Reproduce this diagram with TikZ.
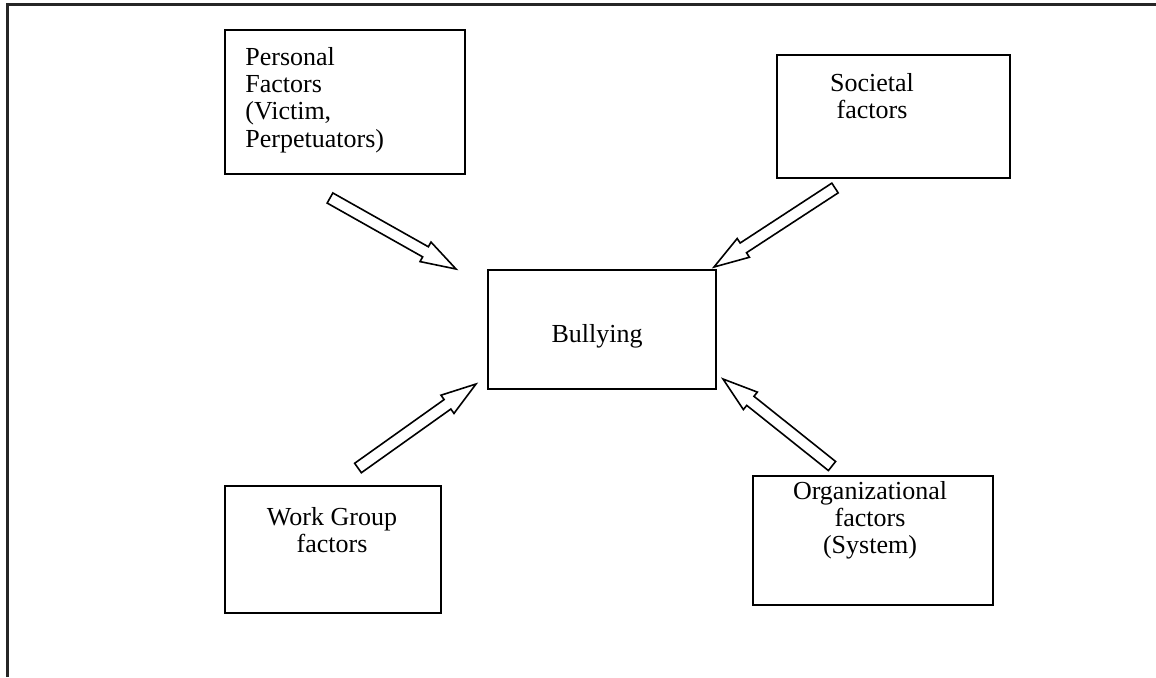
\documentclass[tikz,border=0pt]{standalone}
\usepackage{fontspec}
\setmainfont{Liberation Serif}
\usetikzlibrary{calc}
\tikzset{
  factorbox/.style={draw, line width=1.2pt, inner sep=0pt},
  label text/.style={inner sep=0pt, font=\fontsize{13}{13.7}\selectfont},
  blockarrow/.style={draw, line width=0.8pt, fill=white, line join=miter},
  frameline/.style={draw=black!85, line width=1.1pt}
}
\newcommand\fatarrow[2]{%
  \coordinate (#1hb) at ($(#2)!17.5pt!(#1)$);
  \draw[blockarrow] ($(#1)!2.9pt!90:(#2)$)
    -- ($(#1hb)!2.9pt!-90:(#1)$)
    -- ($(#1hb)!5.6pt!-90:(#1)$)
    -- (#2)
    -- ($(#1hb)!5.6pt!90:(#1)$)
    -- ($(#1hb)!2.9pt!90:(#1)$)
    -- ($(#1)!2.9pt!-90:(#2)$)
    -- cycle;}
\begin{document}
\begin{tikzpicture}[x=0.5pt, y=-0.5pt]
\useasboundingbox (0,0) rectangle (1156,677);
% outer frame (left and top edges)
\coordinate (frameBL) at (7.5,677);
\coordinate (frameTL) at (7.5,4.5);
\coordinate (frameTR) at (1156,4.5);
\draw[frameline] (frameBL) -- (frameTL) -- (frameTR);

% boxes
\node[factorbox, minimum width=120pt, minimum height=72pt] (personal) at (345,102) {};
\node[factorbox, minimum width=116.5pt, minimum height=61.5pt] (societal) at (893.5,116.5) {};
\node[factorbox, minimum width=114pt, minimum height=59.5pt] (bullying) at (602,329.5) {};
\node[factorbox, minimum width=108pt, minimum height=63.5pt] (workgroup) at (333,549.5) {};
\node[factorbox, minimum width=120pt, minimum height=64.5pt] (organizational) at (873,540.5) {};

% texts
\node[label text, anchor=base west] (personaltext) at (245,65)
  {\begin{tabular}[t]{@{}l@{}}Personal\\Factors\\(Victim,\\Perpetuators)\end{tabular}};
\node[label text, anchor=base] (societaltext) at (872,91)
  {\begin{tabular}[t]{@{}c@{}}Societal\\factors\end{tabular}};
\node[label text, anchor=base] (bullyingtext) at (597,342) {Bullying};
\node[label text, anchor=base] (workgrouptext) at (332,525)
  {\begin{tabular}[t]{@{}c@{}}Work Group\\factors\end{tabular}};
\node[label text, anchor=base] (organizationaltext) at (870,499)
  {\begin{tabular}[t]{@{}c@{}}Organizational\\factors\\(System)\end{tabular}};

% arrows
\coordinate (pTail) at (330,198);  \coordinate (pTip) at (456,269);
\coordinate (sTail) at (835,188);  \coordinate (sTip) at (714,267);
\coordinate (wTail) at (358,468);  \coordinate (wTip) at (476,384);
\coordinate (oTail) at (832,466);  \coordinate (oTip) at (723,379);
\fatarrow{pTail}{pTip}
\fatarrow{sTail}{sTip}
\fatarrow{wTail}{wTip}
\fatarrow{oTail}{oTip}
\end{tikzpicture}
\end{document}
